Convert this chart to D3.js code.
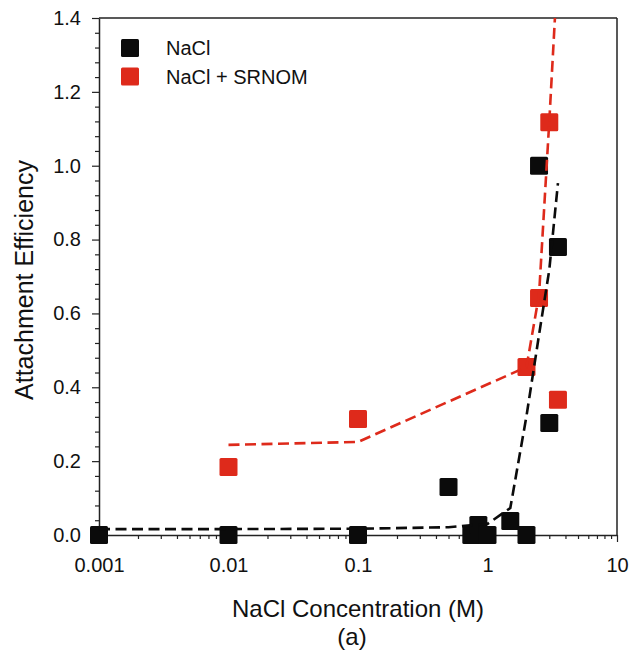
<!DOCTYPE html>
<html>
<head>
<meta charset="utf-8">
<script src="https://cdn.jsdelivr.net/npm/d3@7"></script>
<style>
  html, body { margin: 0; padding: 0; background: #fff; }
  svg text { font-family: "Liberation Sans", Arial, Helvetica, sans-serif; fill: #111; }
</style>
</head>
<body>
<svg id="chart" width="629" height="652"></svg>
<script>
// ---- data ----
const naclX = [0.001, 0.01, 0.1, 0.5, 0.75, 0.85, 1.0, 1.5, 2.0, 2.5, 3.0, 3.5];
const naclY = [0, 0, 0, 0.13, 0, 0.027, 0, 0.038, 0, 1.0, 0.303, 0.78];
const nomX = [0.01, 0.1, 2.0, 2.5, 3.0, 3.5];
const nomY = [0.184, 0.314, 0.455, 0.642, 1.118, 0.366];
const naclFitX = [0.001, 0.01, 0.1, 0.5, 1.0, 1.5, 2.0, 2.5, 3.0, 3.5];
const naclFitY = [0.016, 0.016, 0.017, 0.021, 0.03, 0.073, 0.322, 0.542, 0.718, 0.953];
const nomFitX = [0.01, 0.1, 2.0, 2.5, 3.0, 3.5];
const nomFitY = [0.244, 0.252, 0.455, 0.65, 1.12, 1.55];
const xTicks = [0.001, 0.01, 0.1, 1, 10];
const xTickLabels = ["0.001", "0.01", "0.1", "1", "10"];
const yTicks = [0, 0.2, 0.4, 0.6, 0.8, 1.0, 1.2, 1.4];
const seriesNames = ["NaCl", "NaCl + SRNOM"];
const seriesColors = ["#0b0b0b", "#de2a1b"];

// ---- layout ----
const L = 99, R = 617, T = 18, B = 535;
const svg = d3.select("#chart");
const x = d3.scaleLog().domain([0.001, 10]).range([L, R]);
const y = d3.scaleLinear().domain([0, 1.4]).range([B, T]);

svg.append("defs").append("clipPath").attr("id", "clip")
  .append("rect").attr("x", L).attr("y", T).attr("width", R - L).attr("height", B - T);

// minor ticks
const xMinor = [];
for (let d = 0.001; d < 10; d *= 10) for (let k = 2; k <= 9; k++) xMinor.push(+(d * k).toPrecision(3));
const yMinor = d3.range(0, 1.4001, 0.04).filter(v => Math.abs(v / 0.2 - Math.round(v / 0.2)) > 1e-6);

const axisColor = "#222";
function styleAxis(g) {
  g.selectAll("path.domain").attr("stroke", axisColor).attr("stroke-width", 1.5);
  g.selectAll(".tick line").attr("stroke", axisColor).attr("stroke-width", 1.2);
  g.selectAll(".tick text").style("font-size", "20px").attr("fill", "#111");
}

// x axis
const gxMinor = svg.append("g").attr("transform", `translate(0,${B})`)
  .call(d3.axisBottom(x).tickValues(xMinor).tickSize(4).tickFormat(""));
gxMinor.select("path.domain").remove();
gxMinor.selectAll(".tick line").attr("stroke", axisColor).attr("stroke-width", 1.2);
const gx = svg.append("g").attr("transform", `translate(0,${B})`)
  .call(d3.axisBottom(x).tickValues(xTicks).tickSize(7).tickSizeOuter(0)
    .tickPadding(16).tickFormat((d, i) => xTickLabels[i]));
styleAxis(gx);

// y axis
const gyMinor = svg.append("g").attr("transform", `translate(${L},0)`)
  .call(d3.axisLeft(y).tickValues(yMinor).tickSize(4).tickFormat(""));
gyMinor.select("path.domain").remove();
gyMinor.selectAll(".tick line").attr("stroke", axisColor).attr("stroke-width", 1.2);
const gy = svg.append("g").attr("transform", `translate(${L},0)`)
  .call(d3.axisLeft(y).tickValues(yTicks).tickSize(7).tickSizeOuter(0)
    .tickPadding(11).tickFormat(d3.format(".1f")));
styleAxis(gy);

// top & right frame
svg.append("line").attr("x1", x.range()[0]).attr("x2", x.range()[1]).attr("y1", y(1.4)).attr("y2", y(1.4))
  .attr("stroke", axisColor).attr("stroke-width", 1.5);
svg.append("line").attr("x1", x(10)).attr("x2", x(10)).attr("y1", y(0)).attr("y2", y(1.4))
  .attr("stroke", axisColor).attr("stroke-width", 1.5);

// markers
const S = 18;
function markers(xs, ys, color) {
  svg.append("g").selectAll("rect").data(xs).join("rect")
    .attr("x", (d) => x(d) - S / 2)
    .attr("y", (d, i) => y(ys[i]) - S / 2)
    .attr("width", S).attr("height", S).attr("rx", 1.5)
    .attr("fill", color);
}
markers(naclX, naclY, seriesColors[0]);
markers(nomX, nomY, seriesColors[1]);

// fit lines
const line = d3.line().x(d => x(d[0])).y(d => y(d[1]));
const plot = svg.append("g").attr("clip-path", "url(#clip)");
plot.append("path").datum(naclFitX.map((v, i) => [v, naclFitY[i]]))
  .attr("d", line).attr("fill", "none").attr("stroke", seriesColors[0])
  .attr("stroke-width", 2.6).attr("stroke-dasharray", "11,5.5");
plot.append("path").datum(nomFitX.map((v, i) => [v, nomFitY[i]]))
  .attr("d", line).attr("fill", "none").attr("stroke", seriesColors[1])
  .attr("stroke-width", 2.6).attr("stroke-dasharray", "11,5.5");

// legend
const leg = svg.append("g");
seriesNames.forEach((name, i) => {
  const cy = 48 + i * 28.5;
  leg.append("rect").attr("x", 121).attr("y", cy - 9).attr("width", 18).attr("height", 18)
    .attr("rx", 1.5).attr("fill", seriesColors[i]);
  leg.append("text").attr("x", 166).attr("y", cy + 7).style("font-size", "20px").text(name);
});

// axis titles
svg.append("text").attr("x", 358).attr("y", 617).attr("text-anchor", "middle")
  .style("font-size", "24px").text("NaCl Concentration (M)");
svg.append("text").attr("x", 352).attr("y", 645).attr("text-anchor", "middle")
  .style("font-size", "24px").text("(a)");
svg.append("text").attr("transform", "translate(33,280) rotate(-90)").attr("text-anchor", "middle")
  .style("font-size", "25px").text("Attachment Efficiency");
</script>
</body>
</html>
